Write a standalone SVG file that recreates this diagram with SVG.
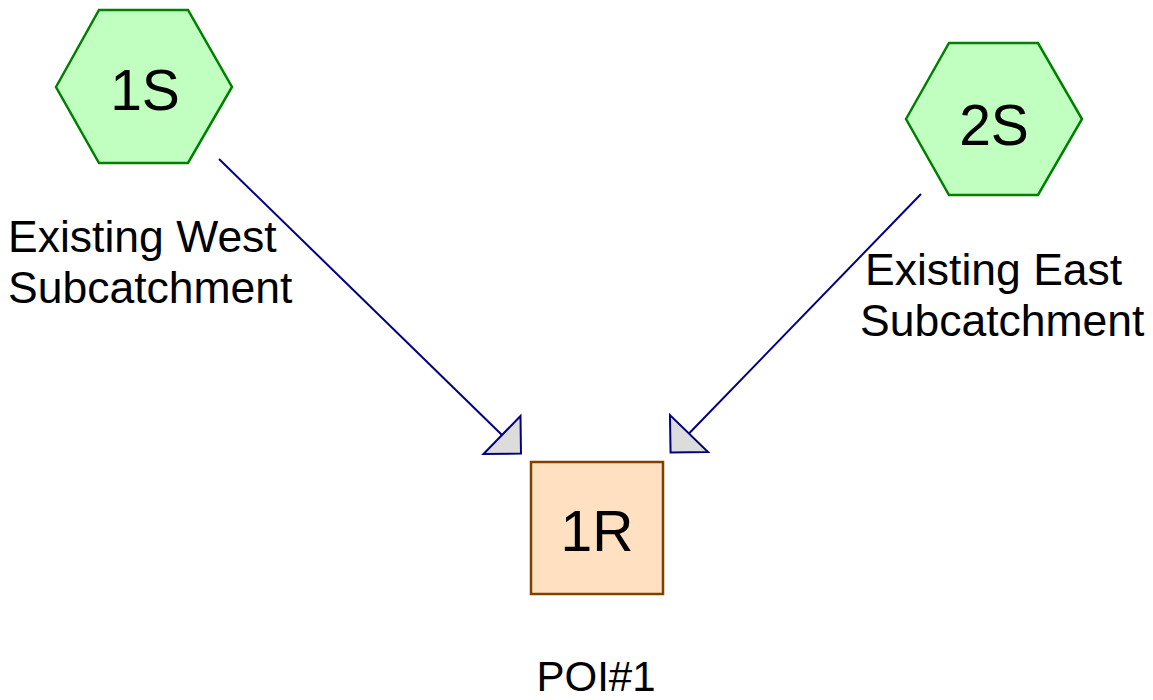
<svg xmlns="http://www.w3.org/2000/svg" width="1153" height="700" viewBox="0 0 1153 700">
<style>
.hex{fill:#C0FFC0;stroke:#008000;stroke-width:2.5}
.box{fill:#FFE0C0;stroke:#804000;stroke-width:2.5}
.id{font-family:"Liberation Sans",Arial,sans-serif;font-size:57px;fill:#000;text-anchor:middle}
.lbl{font-family:"Liberation Sans",Arial,sans-serif;font-size:44.5px;fill:#000}
.conn{stroke:#000080;stroke-width:2;fill:none;marker-end:url(#ah)}
</style>
<defs>
<marker id="ah" markerUnits="userSpaceOnUse" viewBox="-3 -30 33 60" markerWidth="33" markerHeight="60" refX="0" refY="0" orient="auto" overflow="visible">
<path d="M0,-26.5 L26.5,0 L0,26.5 Z" fill="#DCDCDC" stroke="#000080" stroke-width="2" stroke-linejoin="miter"/>
</marker>
</defs>
<rect width="1153" height="700" fill="#fff"/>
<g id="connectors">
<path class="conn" d="M219,159 L502,435"/>
<path class="conn" d="M921,194 L689,433.5"/>
</g>
<g id="node-1S">
<polygon class="hex" points="56,87 99,10 188,10 232,87 188,163 99,163"/>
<text class="id" x="145" y="109.5">1S</text>
<text class="lbl" x="8" y="252">Existing West</text>
<text class="lbl" x="8" y="303">Subcatchment</text>
</g>
<g id="node-2S">
<polygon class="hex" points="906,119 949,43 1038,43 1082,119 1038,195 949,195"/>
<text class="id" x="994" y="145">2S</text>
<text class="lbl" x="865" y="285">Existing East</text>
<text class="lbl" x="860" y="336">Subcatchment</text>
</g>
<g id="node-1R">
<rect class="box" x="531" y="462" width="132" height="132"/>
<text class="id" x="597" y="551">1R</text>
<text class="lbl" x="596" y="691" style="font-size:42px;text-anchor:middle">POI#1</text>
</g>
</svg>
